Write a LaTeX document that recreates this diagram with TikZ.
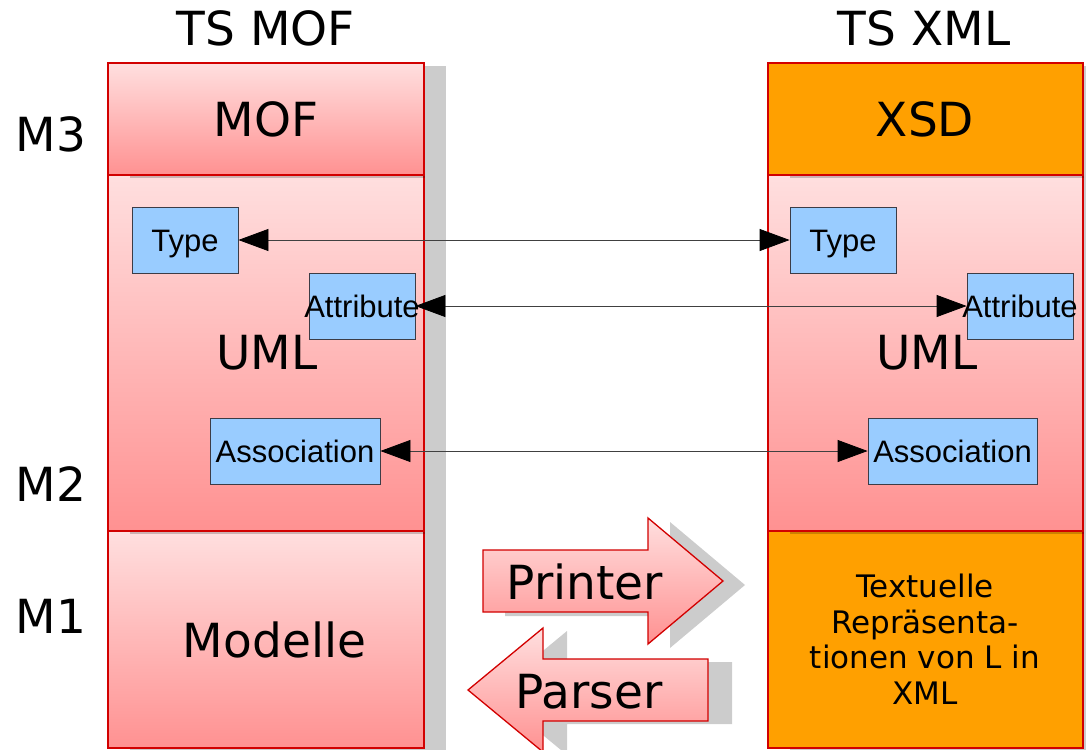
\documentclass[tikz,border=0pt]{standalone}
\usepackage{fontspec}
\setmainfont{DejaVu Sans}
\newfontfamily\labfont{Liberation Sans}
\usetikzlibrary{arrows.meta,shadows}
\definecolor{pkT}{RGB}{255,223,223}
\definecolor{pkB}{RGB}{255,145,145}
\definecolor{rd}{RGB}{210,0,0}
\definecolor{org}{RGB}{255,160,0}
\definecolor{blu}{RGB}{153,204,255}
\definecolor{bbd}{RGB}{60,60,70}
\begin{document}
\begin{tikzpicture}[x=1pt,y=-1pt,
  colbox/.style={draw=rd, line width=1.3pt, inner sep=0pt, minimum width=316pt,
    general shadow={shadow xshift=22pt, shadow yshift=-3pt, fill=black, opacity=0.2}},
  pinkfill/.style={top color=pkT, bottom color=pkB},
  orgfill/.style={fill=org},
  big/.style={font=\fontsize{47}{56}\selectfont, inner sep=0pt, anchor=base},
  bluebox/.style={draw=bbd, fill=blu, line width=0.8pt, minimum height=66pt, inner sep=0pt,
    text height=22pt, text depth=0pt, font=\labfont\fontsize{31}{36}\selectfont},
  link/.style={{Triangle[length=30pt,width=22pt,color=black]}-{Triangle[length=30pt,width=22pt,color=black]}, draw=black!75, line width=0.8pt},
  bigarrow/.style={draw=rd, line width=1.3pt, top color=pkT, bottom color=pkB},
  arrshadow/.style={fill=black, opacity=0.2}
]
\useasboundingbox[fill=white] (0,0) rectangle (1086,749);

% left column (bottom first so shadows overlap correctly)
\node[colbox, pinkfill, minimum height=217pt] (lmod) at (266,639.5) {};
\node[colbox, pinkfill, minimum height=356pt] (luml) at (266,353) {};
\node[colbox, pinkfill, minimum height=112pt] (lmof) at (266,119) {};
% right column
\node[colbox, orgfill, minimum width=315pt, minimum height=217pt] (rtxt) at (925.5,639.5) {};
\node[colbox, pinkfill, minimum width=315pt, minimum height=356pt] (ruml) at (925.5,353) {};
\node[colbox, orgfill, minimum width=315pt, minimum height=112pt] (rxsd) at (925.5,119) {};

% titles and labels
\node[big] (tsmof) at (266,46) {TS MOF};
\node[big] (tsxml) at (924,46) {TS XML};
\node[big] (m3) at (51,151) {M3};
\node[big] (m2) at (51,501) {M2};
\node[big] (m1) at (51,633) {M1};
\node[big] (tmof) at (266,136) {MOF};
\node[big] (txsd) at (925,136) {XSD};
\node[big] (tumll) at (267,369) {UML};
\node[big] (tumlr) at (927,369) {UML};
\node[big] (tmod) at (274.5,657) {Modelle};
\node[font=\fontsize{31}{35.5}\selectfont, align=center, inner sep=0pt] (ttxt) at (925,639)
  {Textuelle\\Repräsenta-\\tionen von L in\\XML};

% blue boxes
\node[bluebox, minimum width=106pt] (ltype) at (185,240) {Type};
\node[bluebox, minimum width=106pt] (lattr) at (362,306) {\makebox[0pt]{Attribute}};
\node[bluebox, minimum width=170pt] (lassoc) at (295,451) {\makebox[0pt]{Association}};
\node[bluebox, minimum width=106pt] (rtype) at (843,240) {Type};
\node[bluebox, minimum width=106pt] (rattr) at (1020,306) {\makebox[0pt]{Attribute}};
\node[bluebox, minimum width=169pt] (rassoc) at (952.5,451) {\makebox[0pt]{Association}};

% connectors
\draw[link] (ltype.east) -- (rtype.west);
\draw[link] (lattr.east) -- (rattr.west);
\draw[link] (lassoc.east) -- (rassoc.west);

% Printer arrow
\fill[arrshadow, shift={(22,4)}] (483,550) -- (648,550) -- (648,518) -- (723,581) -- (648,644) -- (648,612) -- (483,612) -- cycle;
\draw[bigarrow] (483,550) -- (648,550) -- (648,518) -- (723,581) -- (648,644) -- (648,612) -- (483,612) -- cycle;
\node[big] (tprinter) at (585,599) {Printer};

% Parser arrow
\fill[arrshadow, shift={(24,3)}] (708,659) -- (543,659) -- (543,628) -- (468,690) -- (543,752) -- (543,721) -- (708,721) -- cycle;
\draw[bigarrow] (708,659) -- (543,659) -- (543,628) -- (468,690) -- (543,752) -- (543,721) -- (708,721) -- cycle;
\node[big] (tparser) at (589,708) {Parser};
\end{tikzpicture}
\end{document}
